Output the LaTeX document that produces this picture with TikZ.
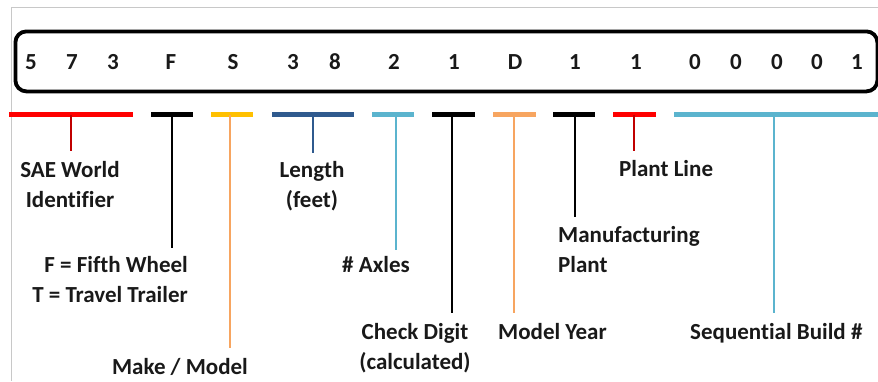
\documentclass[tikz,border=0pt]{standalone}
\usepackage{fontspec}
\setmainfont[Ligatures=NoCommon]{Carlito}
\definecolor{rRed}{HTML}{FF0000}
\definecolor{rDarkRed}{HTML}{C00000}
\definecolor{rGold}{HTML}{FFC000}
\definecolor{rOrange}{HTML}{F7A560}
\definecolor{rNavy}{HTML}{2F5A8E}
\definecolor{rSky}{HTML}{5BB4CE}
\definecolor{rGray}{HTML}{C8C8C8}
\begin{document}
\begin{tikzpicture}[x=1pt,y=-1pt,
  txt/.style={font=\bfseries\fontsize{23}{30}\selectfont, inner sep=0pt, text=black!90},
  digit/.style={txt, anchor=base},
  lbl/.style={txt, anchor=base, align=center},
  bar/.style={line width=5pt},
  stem/.style={line width=2.6pt},
  frame/.style={line width=3.8pt, rounded corners=11pt}]
\useasboundingbox (0,0) rectangle (878,381);
% screenshot border
\draw[rGray, line width=1pt] (878,7) -- (11,7) -- (11,381);
% VIN box
\node[frame, draw, minimum width=862pt, minimum height=60pt, anchor=north west] (box) at (13.5,29.5) {};
% digits
\foreach \ch/\xx [count=\i] in {5/31,7/72,3/113,F/171,S/233,3/293,8/335,2/394,1/454,D/515,1/575,1/636,0/695,0/736,0/777,0/817,1/857}
  \node[digit] (d\i) at (\xx,69.5) {\ch};
% bars
\coordinate (b1l) at (9,114.5);   \coordinate (b1r) at (133,114.5);  \coordinate (b1) at (71,114.5);
\coordinate (b2l) at (151,114.5); \coordinate (b2r) at (193,114.5);  \coordinate (b2) at (172,114.5);
\coordinate (b3l) at (211,114.5); \coordinate (b3r) at (253,114.5);  \coordinate (b3) at (230,114.5);
\coordinate (b4l) at (272,114.5); \coordinate (b4r) at (354,114.5);  \coordinate (b4) at (313,114.5);
\coordinate (b5l) at (372,114.5); \coordinate (b5r) at (414,114.5);  \coordinate (b5) at (396,114.5);
\coordinate (b6l) at (432,114.5); \coordinate (b6r) at (475,114.5);  \coordinate (b6) at (452,114.5);
\coordinate (b7l) at (493,114.5); \coordinate (b7r) at (536,114.5);  \coordinate (b7) at (514,114.5);
\coordinate (b8l) at (553,114.5); \coordinate (b8r) at (595,114.5);  \coordinate (b8) at (575,114.5);
\coordinate (b9l) at (613,114.5); \coordinate (b9r) at (656,114.5);  \coordinate (b9) at (634,114.5);
\coordinate (b10l) at (674,114.5); \coordinate (b10r) at (878,114.5); \coordinate (b10) at (774,114.5);
\draw[bar, rRed] (b1l) -- (b1r);
\draw[bar, black] (b2l) -- (b2r);
\draw[bar, rGold] (b3l) -- (b3r);
\draw[bar, rNavy] (b4l) -- (b4r);
\draw[bar, rSky] (b5l) -- (b5r);
\draw[bar, black] (b6l) -- (b6r);
\draw[bar, rOrange] (b7l) -- (b7r);
\draw[bar, black] (b8l) -- (b8r);
\draw[bar, rRed] (b9l) -- (b9r);
\draw[bar, rSky] (b10l) -- (b10r);
% labels (multi-line nodes: base = last line)
\node[lbl] (l1) at (70,207.5) {SAE World\\Identifier};
\node[lbl, align=right, anchor=base east] (l2) at (188,302.5) {F = Fifth Wheel\\T = Travel Trailer};
\node[lbl] (l3) at (180,374.5) {Make / Model};
\node[lbl] (l4) at (312,207.5) {Length\\(feet)};
\node[lbl] (l5) at (376,272.5) {\# Axles};
\node[lbl] (l6) at (415,369.5) {Check Digit\\(calculated)};
\node[lbl, anchor=base west] (l7) at (498,339.5) {Model Year};
\node[lbl, align=left, anchor=base west] (l8) at (558,272.5) {Manufacturing\\Plant};
\node[lbl, anchor=base west] (l9) at (619,176.5) {Plant Line};
\node[lbl, anchor=base west] (l10) at (690,339.5) {Sequential Build \#};
% stems
\coordinate (e1) at (71,151);
\coordinate (e2) at (172,248);
\coordinate (e3) at (230,348);
\coordinate (e4) at (313,153);
\coordinate (e5) at (396,250);
\coordinate (e6) at (452,313);
\coordinate (e7) at (514,313);
\coordinate (e8) at (575,217);
\coordinate (e9) at (634,151);
\coordinate (e10) at (774,313);
\draw[stem, rDarkRed] (b1) -- (e1);
\draw[stem, black] (b2) -- (e2);
\draw[stem, rOrange] (b3) -- (e3);
\draw[stem, rNavy] (b4) -- (e4);
\draw[stem, rSky] (b5) -- (e5);
\draw[stem, black] (b6) -- (e6);
\draw[stem, rOrange] (b7) -- (e7);
\draw[stem, black] (b8) -- (e8);
\draw[stem, rDarkRed] (b9) -- (e9);
\draw[stem, rSky] (b10) -- (e10);
\end{tikzpicture}
\end{document}
